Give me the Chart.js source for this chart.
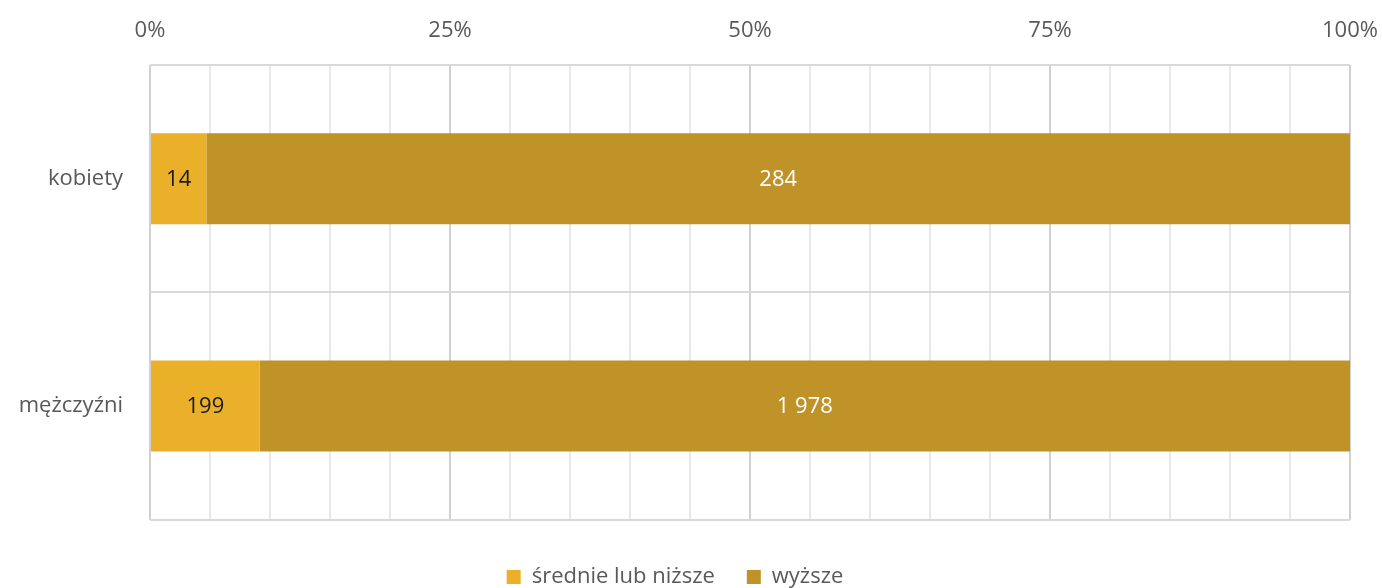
<!DOCTYPE html>
<html lang="pl">
<head>
  <meta charset="UTF-8">
  <title>Wykształcenie wg płci</title>
  <script src="https://cdn.jsdelivr.net/npm/chart.js"></script>
  <style>
    body { margin: 0; background: #fff; }
    #wrap { width: 1382px; height: 588px; }
  </style>
</head>
<body>
<div id="wrap"><canvas id="myChart" width="1382" height="588"></canvas></div>
<script>
  // data
  const categories = ['kobiety', 'mężczyźni'];
  const seriesNames = ['średnie lub niższe', 'wyższe'];
  const lowerCounts = [14, 199];
  const higherCounts = [284, 1978];
  const tickLabels = ['0%', '25%', '50%', '75%', '100%'];

  const totals = lowerCounts.map((v, i) => v + higherCounts[i]);
  const pct = arr => arr.map((v, i) => v / totals[i] * 100);

  const fontFam = '"Open Sans", "Noto Sans", sans-serif';
  const fs = 22;

  // number labels inside bars
  const barLabels = {
    id: 'barLabels',
    afterDatasetsDraw(chart) {
      const c = chart.ctx;
      c.save();
      c.font = fs + 'px ' + fontFam;
      c.textAlign = 'center';
      c.textBaseline = 'middle';
      chart.data.datasets.forEach((ds, di) => {
        chart.getDatasetMeta(di).data.forEach((bar, i) => {
          const n = ds.counts[i];
          const txt = String(n).replace(/\B(?=(\d{3})+(?!\d))/g, ' ');
          c.fillStyle = ds.labelColor;
          c.fillText(txt, (bar.base + bar.x) / 2, bar.y + 1);
        });
      });
      c.restore();
    }
  };

  const ctx = document.getElementById('myChart').getContext('2d');
  new Chart(ctx, {
    type: 'bar',
    data: {
      labels: categories,
      datasets: [
        { label: seriesNames[0], data: pct(lowerCounts), counts: lowerCounts,
          backgroundColor: '#EAB02A', labelColor: '#1a1a1a' },
        { label: seriesNames[1], data: pct(higherCounts), counts: higherCounts,
          backgroundColor: '#C09329', labelColor: '#ffffff' }
      ]
    },
    plugins: [barLabels],
    options: {
      indexAxis: 'y',
      responsive: false,
      animation: false,
      barPercentage: 0.4,
      categoryPercentage: 1,
      layout: { autoPadding: false, padding: { left: 0, right: 32, top: 0, bottom: -10 } },
      scales: {
        x: {
          position: 'top',
          stacked: true,
          min: 0, max: 100,
          border: { display: false },
          grid: {
            color: c => (c.tick && c.tick.value % 25 === 0) ? '#d0d0d0' : '#e8e8e8',
            lineWidth: 2,
            drawTicks: false
          },
          afterFit: s => { s.height = 65; s.paddingLeft = 0; s.paddingRight = 0; },
          ticks: {
            stepSize: 5,
            autoSkip: false,
            maxRotation: 0,
            padding: 21,
            color: '#595959',
            font: { family: fontFam, size: fs },
            callback: v => v % 25 === 0 ? tickLabels[v / 25] : ''
          }
        },
        y: {
          stacked: true,
          border: { display: false },
          grid: { offset: true, color: '#d9d9d9', lineWidth: 2, drawTicks: false },
          afterFit: s => { s.width = 150; },
          ticks: {
            padding: 27,
            color: '#595959',
            font: { family: fontFam, size: fs }
          }
        }
      },
      plugins: {
        tooltip: { enabled: false },
        legend: {
          position: 'bottom',
          // blank title only used as spacer above the legend row
          title: { display: true, text: ' ', font: { size: 1 }, padding: { top: 0, bottom: 13 } },
          labels: {
            boxWidth: 14, boxHeight: 14,
            padding: 32,
            color: '#595959',
            font: { family: fontFam, size: fs }
          }
        }
      }
    }
  });
</script>
</body>
</html>
